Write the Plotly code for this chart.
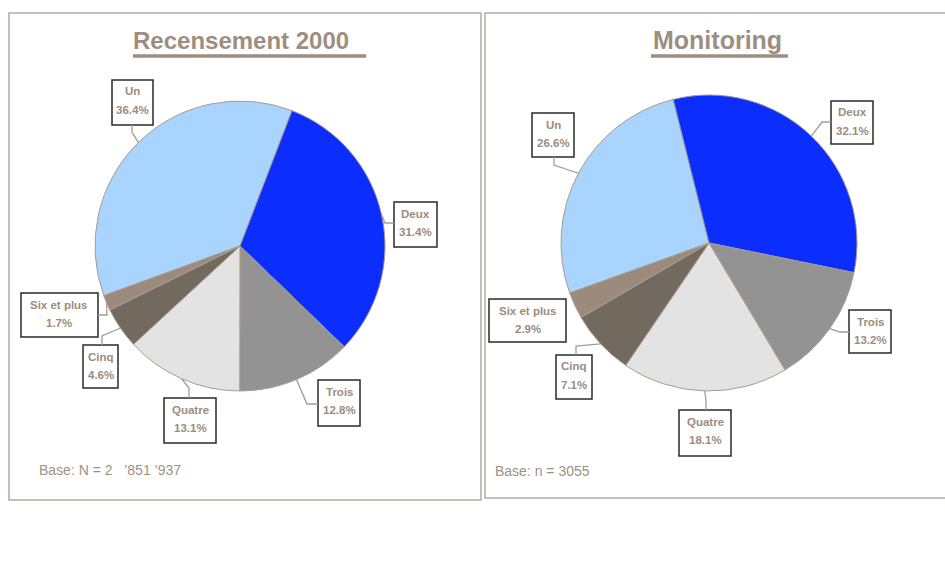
import math
import plotly.graph_objects as go

# ---------------- data ----------------
categories = ["Un", "Deux", "Trois", "Quatre", "Cinq", "Six et plus"]
recensement_values = [36.4, 31.4, 12.8, 13.1, 4.6, 1.7]
monitoring_values = [26.6, 32.1, 13.2, 18.1, 7.1, 2.9]
titles = ["Recensement 2000", "Monitoring"]
base_texts = ["Base: N = 2\u00a0\u00a0 \u2019851 \u2019937", "Base: n = 3055"]

# ---------------- styles / layout ----------------
W, H = 945, 568
colors = ["#A9D4FE", "#0B2EFF", "#939393", "#E3E3E3", "#726A5F", "#9C8B7C"]
taupe = "#9C8C7E"
frame = "#B5AAA0"
FONT = "Liberation Sans, Arial, sans-serif"

def px(x):
    return x / W

def py(y):
    return 1 - y / H

panels = [
    dict(values=recensement_values, cx=240, cy=246, r=145, first_start=21,
         title_x=240.5, title_size=24, underline=(133, 366), base_x=37, base_y=470,
         frame=(9, 13, 481, 500),
         boxes={
             "Un": ((112, 80, 153, 125), (132, 132), (132, 125)),
             "Deux": ((394, 202, 437, 247), (385, 223), (394, 223)),
             "Trois": ((318, 380, 360, 426), (307, 404), (318, 404)),
             "Quatre": ((164, 398, 216, 443), (189, 388), (189, 398)),
             "Cinq": ((83, 345, 118, 388), (102, 336), (102, 345)),
             "Six et plus": ((21, 293, 98, 337), (107, 315), (98, 315)),
         }),
    dict(values=monitoring_values, cx=709, cy=243, r=148, first_start=-14,
         title_x=717.5, title_size=25, underline=(651, 788), base_x=493, base_y=471,
         frame=(485, 13, 955, 498),
         boxes={
             "Un": ((532, 113, 574, 157), (554, 165), (554, 157)),
             "Deux": ((831, 101, 873, 144), (822, 122), (831, 122)),
             "Trois": ((849, 310, 891, 353), (840, 332), (849, 332)),
             "Quatre": ((679, 410, 731, 456), (706, 400), (706, 410)),
             "Cinq": ((556, 355, 592, 399), (576, 346), (576, 355)),
             "Six et plus": ((489, 299, 566, 342), None, None),
         }),
]

fig = go.Figure()
shapes = []
annotations = []

for idx, p in enumerate(panels):
    vals = p["values"]
    total = sum(vals)
    # Deux is drawn from first_start clockwise; Un (first item) ends there
    rotation = p["first_start"] - 360 * vals[0] / total
    cx, cy, r = p["cx"], p["cy"], p["r"]
    fig.add_trace(go.Pie(
        labels=categories, values=vals, sort=False, direction="clockwise",
        rotation=rotation, textinfo="none", hoverinfo="label+percent",
        showlegend=False,
        marker=dict(colors=colors, line=dict(color="#A89C90", width=1)),
        domain=dict(x=[px(cx - r), px(cx + r)], y=[py(cy + r), py(cy - r)]),
    ))

    # frame
    fx0, fy0, fx1, fy1 = p["frame"]
    shapes.append(dict(type="rect", xref="paper", yref="paper",
                       x0=px(fx0), x1=px(fx1), y0=py(fy1), y1=py(fy0),
                       line=dict(color=frame, width=1.5)))

    # title + underline
    annotations.append(dict(x=px(p["title_x"]), y=py(40), xref="paper", yref="paper",
                            text=f"<b>{titles[idx]}</b>", showarrow=False,
                            xanchor="center", yanchor="middle",
                            font=dict(family=FONT, size=p["title_size"], color="#9E8E81")))
    u0, u1 = p["underline"]
    shapes.append(dict(type="line", xref="paper", yref="paper",
                       x0=px(u0), x1=px(u1), y0=py(56), y1=py(56),
                       line=dict(color="#9E8E81", width=3.5)))

    # base text
    annotations.append(dict(x=px(p["base_x"]), y=py(p["base_y"]), xref="paper", yref="paper",
                            text=base_texts[idx], showarrow=False,
                            xanchor="left", yanchor="middle",
                            font=dict(family=FONT, size=14, color="#A09182")))

    # labels with leader lines
    cum = 0.0
    for cat, v in zip(categories, vals):
        mid = rotation + 360 * (cum + v / 2) / total
        cum += v
        a = math.radians(mid)
        hx = cx + r * math.sin(a)
        hy = cy - r * math.cos(a)
        (bx0, by0, bx1, by1), elbow, attach = p["boxes"][cat]
        shapes.append(dict(type="rect", xref="paper", yref="paper",
                           x0=px(bx0), x1=px(bx1), y0=py(by1), y1=py(by0),
                           fillcolor="white", line=dict(color="#2A2A2A", width=1.5)))
        if elbow is not None:
            path = (f"M {px(hx)},{py(hy)} L {px(elbow[0])},{py(elbow[1])} "
                    f"L {px(attach[0])},{py(attach[1])}")
            shapes.append(dict(type="path", xref="paper", yref="paper", path=path,
                               line=dict(color="#A89A8C", width=1.3)))
        bxc = (bx0 + bx1) / 2
        annotations.append(dict(x=px(bxc), y=py(by0 + 11.5), xref="paper", yref="paper",
                                text=f"<b>{cat}</b>", showarrow=False,
                                xanchor="center", yanchor="middle",
                                font=dict(family=FONT, size=11.5, color=taupe)))
        annotations.append(dict(x=px(bxc), y=py(by0 + 30), xref="paper", yref="paper",
                                text=f"<b>{v:.1f}%</b>", showarrow=False,
                                xanchor="center", yanchor="middle",
                                font=dict(family=FONT, size=11.5, color=taupe)))

fig.update_layout(
    width=W, height=H,
    margin=dict(l=0, r=0, t=0, b=0),
    paper_bgcolor="white", plot_bgcolor="white",
    shapes=shapes, annotations=annotations,
    font=dict(family=FONT),
)

fig.write_html("out.html", config={"displayModeBar": False},
               post_script="document.body.style.margin='0';document.body.style.overflow='hidden';")
